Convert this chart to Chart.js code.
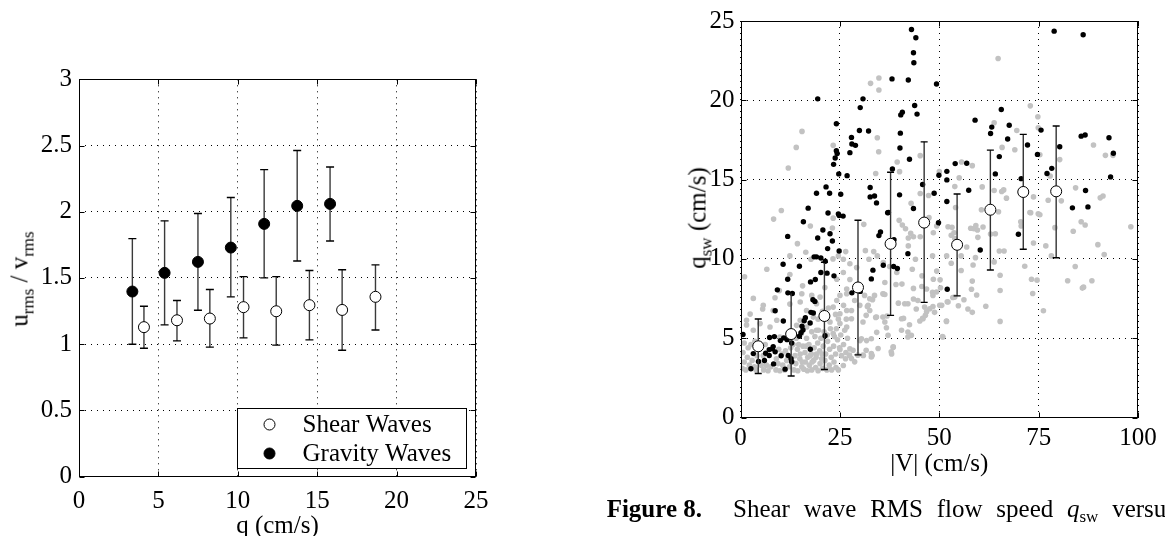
<!DOCTYPE html>
<html>
<head>
<meta charset="utf-8">
<script src="https://cdn.jsdelivr.net/npm/chart.js@4.4.0/dist/chart.umd.min.js"></script>
<style>
  html, body { margin: 0; padding: 0; background: #fff; }
  body { position: relative; width: 1165px; height: 536px; overflow: hidden; font-family: "Liberation Serif", "Times New Roman", serif; color: #000; }
  canvas { position: absolute; top: 0; }
  #ratioChart { left: 0; }
  #speedChart { left: 620px; }
  .ylab { position: absolute; white-space: nowrap; font-size: 25px; line-height: 25px; transform: translate(-50%, -50%) rotate(-90deg); }
  .ylab sub { font-size: 17px; line-height: 0; vertical-align: -6px; }
  .cap { position: absolute; top: 496px; font-size: 25px; line-height: 25px; white-space: nowrap; }
  .cap sub { font-size: 17px; line-height: 0; vertical-align: -5px; }
</style>
</head>
<body>
<canvas id="ratioChart" width="560" height="560"></canvas>
<canvas id="speedChart" width="545" height="536"></canvas>
<div class="ylab" style="left:19px; top:279px">u<sub>rms</sub> / v<sub>rms</sub></div>
<div class="ylab" style="left:697px; top:218px">q<sub>sw</sub> (cm/s)</div>
<div class="cap" style="right:463px"><b>Figure 8.</b></div>
<div class="cap" style="left:733px; word-spacing:7.5px">Shear wave RMS flow speed <i>q</i><sub>sw</sub> versus</div>

<script>
// ---- left panel: u_rms / v_rms against q ----
const shearQ = [4.09, 6.17, 8.24, 10.36, 12.42, 14.51, 16.57, 18.67];
const shearRatio = [1.128, 1.18, 1.193, 1.279, 1.248, 1.294, 1.258, 1.357];
const shearLow = [0.969, 1.024, 0.977, 1.047, 0.992, 1.032, 0.954, 1.107];
const shearHigh = [1.286, 1.329, 1.412, 1.51, 1.51, 1.556, 1.561, 1.598];

const gravQ = [3.36, 5.39, 7.49, 9.56, 11.66, 13.74, 15.81];
const gravRatio = [1.397, 1.538, 1.621, 1.729, 1.908, 2.044, 2.059];
const gravLow = [0.999, 1.145, 1.256, 1.357, 1.5, 1.628, 1.779];
const gravHigh = [1.797, 1.931, 1.986, 2.107, 2.318, 2.462, 2.338];

const qTicks = [0, 5, 10, 15, 20, 25];
const ratioTicks = [0, 0.5, 1, 1.5, 2, 2.5, 3];
const legendLabels = ["Shear Waves", "Gravity Waves"];

// ---- right panel: q_sw against |V| ----
const binV = [4.44, 12.72, 21.09, 29.54, 37.74, 46.19, 54.48, 62.85, 71.13, 79.41];
const binQ = [4.49, 5.26, 6.4, 8.2, 10.95, 12.29, 10.89, 13.1, 14.22, 14.26];
const binLow = [2.77, 2.62, 3.03, 3.95, 6.44, 7.26, 7.67, 9.3, 10.61, 10.07];
const binHigh = [6.21, 7.86, 9.79, 12.44, 15.46, 17.38, 14.09, 16.86, 17.85, 18.38];

const vTicks = [0, 25, 50, 75, 100];
const qswTicks = [0, 5, 10, 15, 20, 25];

// [|V|, q_sw] samples drawn black
const blackPts = [
  [43.0,24.46],[44.1,23.94],[43.5,23.0],[43.6,22.37],[38.1,21.35],[42.2,21.28],[49.3,21.03],[19.4,20.09],
  [30.8,20.09],[30.1,19.54],[40.7,19.25],[40.3,19.08],[43.8,19.67],[44.4,19.13],[24.1,18.52],[29.9,18.1],
  [32.2,18.06],[40.2,17.93],[27.9,17.66],[28.0,17.24],[28.9,17.16],[27.5,16.7],[24.1,16.82],[24.3,16.65],
  [23.8,16.36],[23.4,15.96],[24.7,15.36],[26.8,15.25],[40.1,16.99],[42.5,16.28],[38.2,15.67],[49.9,15.27],
  [21.5,14.54],[19.1,14.14],[22.4,14.14],[25.2,14.08],[32.6,14.5],[32.6,13.91],[33.7,13.97],[34.2,13.53],
  [40.0,14.04],[45.8,14.69],[48.7,14.14],[43.5,13.18],[17.0,13.2],[22.0,12.89],[24.6,12.84],[37.2,12.93],
  [78.9,24.36],[86.2,24.13],[65.6,19.42],[59.0,18.75],[63.2,18.31],[62.9,17.91],[67.6,18.43],[67.2,17.56],
  [75.6,18.12],[72.2,17.18],[80.3,17.07],[85.7,17.74],[86.7,17.81],[92.7,17.64],[93.8,16.66],[65.1,16.45],
  [74.7,16.59],[54.0,16.01],[56.9,16.03],[51.9,15.52],[51.9,14.98],[64.1,15.36],[70.6,15.06],[78.3,15.71],
  [77.1,15.38],[93.1,15.17],[57.4,14.33],[86.8,14.31],[51.9,13.62],[83.5,13.22],[87.4,13.28],
  [24.8,12.74],[25.8,12.7],[15.8,12.34],[11.85,11.42],[19.4,11.32],[20.7,11.82],[22.5,11.59],[23.1,11.13],
  [21.9,10.65],[24.8,10.5],[18.5,10.13],[19.1,10.13],[20.2,10.06],[21.3,9.85],[10.7,9.66],[14.8,9.54],
  [20.2,9.14],[21.75,9.1],[23.5,8.93],[18.8,8.7],[17.6,8.55],[11.85,8.72],[9.25,8.05],[11.9,7.86],
  [13.0,7.82],[18.2,7.42],[18.7,7.32],[8.7,6.73],[17.7,6.63],[18.3,6.59],[16.3,6.29],[16.0,6.1],
  [10.75,6.08],[15.45,5.75],[15.7,5.52],[15.2,5.35],[14.8,5.12],[17.5,5.96],[8.5,5.1],[7.3,5.04],
  [10.0,4.85],[10.85,5.02],[11.7,4.91],[12.85,4.7],[8.2,4.47],[8.0,4.33],[7.2,4.28],[8.7,4.14],
  [6.3,4.05],[7.2,3.91],[10.2,3.89],[12.0,3.91],[12.7,3.7],[3.2,4.03],[6.0,3.59],[4.5,3.53],
  [8.3,3.38],[12.85,3.51],[2.6,3.07],[0.6,5.23],[17.55,4.3],[21.25,5.16],[11.2,3.05],[33.3,9.29],
  [32.9,8.74],[30.1,7.95],[28.0,7.86],[35.2,11.7],[34.8,11.47],[38.6,11.21],[35.9,9.6],[38.5,9.52],
  [39.45,9.39],[42.1,10.33],[37.0,12.91],[49.8,12.28],[69.9,11.55],[60.3,10.56],[52.0,8.09]
];

// [|V|, q_sw] samples drawn light grey
const grayPts = [
  [34.8,21.41],[32.7,21.07],[34.8,20.65],[15.45,18.04],[14.0,17.03],[23.3,17.16],[34.4,17.64],[34.75,16.76],
  [12.0,15.73],[39.4,16.11],[40.0,15.5],[34.0,15.38],[45.2,16.51],[50.0,15.5],[45.2,14.12],[47.3,14.0],
  [42.9,13.51],[10.25,13.05],
  [64.8,22.64],[72.9,19.65],[74.8,18.96],[74.9,18.27],[63.8,18.58],[69.5,18.1],[65.8,17.03],[69.0,16.88],
  [88.8,17.18],[91.8,16.53],[93.7,16.53],[80.3,16.26],[75.3,16.57],[58.3,15.88],[55.6,16.11],[55.0,15.11],
  [53.9,14.56],[60.8,14.54],[63.8,14.31],[65.7,14.25],[66.2,14.35],[66.9,13.83],[73.7,13.91],[77.9,15.23],
  [77.4,13.7],[80.7,13.66],[84.3,14.48],[90.5,13.85],[91.2,13.97],[60.6,13.1],[64.9,12.97],[72.8,12.93],
  [74.9,12.84],[54.1,13.24],
  [52.2,12.03],[53.2,11.99],[53.7,11.65],[53.0,11.49],[53.9,11.28],[57.9,11.93],[58.7,11.9],[59.6,11.82],
  [59.2,12.11],[61.0,12.01],[59.7,11.36],[56.9,10.75],[62.9,11.57],[64.1,11.59],[65.1,10.5],[66.3,10.5],
  [59.1,10.08],[51.85,10.19],[55.5,10.19],[53.0,9.73],[58.5,9.62],[63.8,9.81],[55.5,9.27],[65.3,8.97],
  [50.2,8.68],[58.3,8.6],[58.1,8.09],[50.3,8.18],[59.4,7.72],[65.3,8.01],[53.4,7.57],[56.2,7.42],
  [52.0,7.3],[50.6,7.07],[54.8,7.05],[57.2,6.84],[58.3,6.63],[61.7,7.01],[51.8,6.06],[65.3,6.06],
  [50.8,5.1],[70.5,12.34],[70.6,12.07],[73.0,12.91],[75.3,12.78],[73.7,11.0],[76.8,10.82],[79.1,11.97],
  [78.2,10.19],[71.5,9.54],[73.2,8.72],[74.6,8.66],[73.5,7.82],[76.2,6.73],[83.7,11.74],[85.7,12.34],
  [86.7,12.14],[89.9,10.9],[91.5,10.27],[98.2,12.03],[84.2,9.52],[82.3,8.62],[86.0,8.16],[86.3,8.22],
  [88.4,8.62],
  [8.3,12.51],[17.55,12.07],[23.1,11.95],[23.3,12.57],[31.0,12.18],[39.9,12.43],[40.7,12.14],[41.5,11.9],
  [42.8,11.61],[43.5,11.4],[42.2,11.32],[45.2,11.4],[48.5,11.65],[47.4,12.6],[49.35,12.07],[14.3,10.96],
  [1.0,8.87],[6.6,9.35],[12.4,9.02],[8.66,7.55],[5.55,6.84],[2.4,6.52],[1.5,5.83],[16.4,10.42],
  [17.7,9.98],[23.25,10.0],[24.6,10.19],[26.45,10.46],[27.5,9.69],[25.85,9.14],[12.4,10.19],[31.4,10.52],
  [32.3,9.98],[33.5,10.46],[34.4,10.19],[35.9,9.77],[37.5,9.52],[39.3,9.14],[40.6,8.41],[43.5,8.14],
  [43.5,7.47],[44.2,6.84],[39.7,7.21],[36.0,7.78],[36.3,8.51],[39.1,8.39],[33.2,7.42],[31.9,7.0],
  [34.0,6.31],[36.85,6.4],[41.0,6.25],[45.8,6.25],[46.8,6.67],[48.4,7.0],[45.6,8.26],[46.8,8.1],
  [48.5,8.72],[49.35,9.23],[45.65,8.93],[43.2,9.35],[44.0,9.98],[48.3,10.19],[42.2,10.82],[48.3,7.89],
  [48.8,6.63],[30.9,3.91],[33.1,3.91],[38.4,4.43],[38.0,4.01],[31.7,4.85],[30.05,4.85],[34.25,5.37],
  [27.5,4.33],[26.4,3.7],[25.85,3.28],[25.0,4.28],[3.2,7.51],[9.75,8.0],[12.4,7.15],[15.6,8.3],
  [21.2,8.2],[24.2,8.72],[26.7,8.1],[27.5,8.7],[29.2,9.45],[25.85,9.98],
  [15.4,7.8],[17.9,7.7],[20.0,7.59],[25.0,7.7],[26.7,7.8],[15.0,7.28],[19.1,7.17],[24.2,7.38],
  [25.9,7.07],[5.7,7.07],[8.2,6.75],[1.5,6.13],[3.2,5.5],[4.9,5.92],[7.4,5.71],[9.1,6.13],
  [15.0,6.13],[16.6,6.75],[18.3,6.33],[23.3,6.96],[25.0,6.54],[26.7,6.75],[22.5,6.02],[25.0,5.92],
  [26.7,5.71],[23.3,5.29],[19.1,5.5],[16.6,5.71],[14.1,5.81],[9.9,5.08],
  [28.7,7.38],[31.2,7.7],[32.5,7.49],[33.7,7.7],[35.8,7.8],[36.3,7.76],[27.9,6.75],[30.0,7.07],
  [32.1,7.07],[32.5,6.75],[31.6,6.44],[27.9,6.23],[30.8,6.02],[34.2,6.33],[35.8,6.33],[36.3,6.02],
  [36.7,5.66],[37.1,5.18],[40.5,6.23],[41.3,7.17],[42.1,7.17],[42.5,5.85],[40.5,5.5],[42.1,5.39],
  [42.97,5.18],[42.1,5.08],[44.6,7.38],[45.1,6.08],[45.9,6.23],[46.5,6.44],[46.3,6.96],[47.6,6.86],
  [50.1,7.07],[52.2,7.28],[53.9,7.59],[51.8,6.08],[48.4,7.7],[49.3,7.91],[50.9,5.08],[30.4,4.97],
  [32.9,4.97],[31.6,4.24],[32.9,4.03],[32.9,3.82],[30.8,3.93],[34.6,4.35],[37.9,4.14],[38.4,4.45],
  [28.3,4.24],[27.4,3.93],[27.9,3.72],[29.5,3.93],[28.7,3.51],
  [0.4,3.1],[0.9,3.5],[1.3,3.0],[1.7,3.8],[2.2,3.3],[2.9,3.6],[3.5,3.2],[4.1,3.9],
  [0.6,4.1],[1.9,4.4],[3.9,3.0],[5.2,3.3],[5.8,3.0],[6.5,3.3],[6.9,2.95],[7.6,3.2],
  [8.9,3.0],[9.4,3.4],[9.9,2.95],[10.6,3.3],[11.1,3.0],[11.6,3.6],[12.3,3.2],[13.4,3.0],
  [13.9,3.4],[14.4,2.95],[14.9,3.7],[15.4,3.2],[15.9,3.05],[16.3,3.5],[16.8,2.95],[17.3,3.3],
  [17.9,3.0],[18.4,3.6],[18.9,3.15],[19.5,2.95],[20.0,3.4],[20.6,3.1],[21.2,3.6],[21.7,3.0],
  [22.3,3.3],[22.9,3.0],[23.5,3.5],[24.0,3.15],[24.6,3.0],[13.7,3.9],[14.3,4.3],[15.0,4.0],
  [15.7,4.5],[16.2,4.1],[16.9,3.8],[17.2,4.6],[17.8,4.0],[18.5,4.4],[19.0,3.8],[19.4,4.7],
  [19.9,4.2],[20.4,3.7],[20.8,4.5],[21.4,4.0],[21.9,4.8],[22.4,4.3],[22.8,3.8],[23.4,4.5],
  [23.9,4.0],[24.4,4.9],[24.9,4.4],[25.4,3.9],[25.9,4.6],[26.5,4.1],[26.9,5.0],[13.2,4.6],
  [14.0,5.0],[15.3,5.3],[16.6,5.0],[17.9,5.4],[18.7,5.1],[19.6,5.5],[20.2,5.0],[21.0,5.4],
  [21.8,5.2],[22.6,5.6],[23.6,5.1],[24.1,5.6],[25.2,5.2],[26.2,5.5],[26.6,6.2],[24.6,6.2],
  [23.9,6.5],[21.5,6.3],[20.6,6.7],[19.5,6.2],[22.1,6.9],[12.6,4.4],[11.3,4.2],[10.4,4.0],
  [9.6,4.3],[9.0,3.7],[11.9,3.8],[13.0,3.5],[5.7,3.9],[4.7,4.3],[2.6,4.6],[0.9,4.7],
  [3.6,4.8],[6.2,4.6],[19.1,4.0],[18.0,3.5],[20.5,4.0],[17.5,3.9],[16.5,4.5],[15.5,3.5],
  [14.6,4.6]
];

const serif = "'Liberation Serif', 'Times New Roman', serif";
const tickFont = { family: serif, size: 25 };

function toXY(xs, ys) {
  return xs.map((x, i) => ({ x: x, y: ys[i] }));
}

// error bars are drawn just before their own markers so the markers sit on top
const errorBars = {
  id: "errorBars",
  beforeDatasetDraw(chart, args) {
    const ds = chart.data.datasets[args.index];
    if (!ds.errLow) return;
    const xs = chart.scales.x;
    const ys = chart.scales.y;
    const ctx = chart.ctx;
    ctx.save();
    ds.data.forEach((p, i) => {
      const px = xs.getPixelForValue(p.x);
      const top = ys.getPixelForValue(ds.errHigh[i]);
      const bot = ys.getPixelForValue(ds.errLow[i]);
      ctx.lineWidth = 1.4;
      ctx.strokeStyle = ds.stemColor;
      ctx.beginPath();
      ctx.moveTo(px, top);
      ctx.lineTo(px, bot);
      ctx.stroke();
      ctx.strokeStyle = "#000";
      ctx.beginPath();
      ctx.moveTo(px - ds.capWidth, top);
      ctx.lineTo(px + ds.capWidth, top);
      ctx.moveTo(px - ds.capWidth, bot);
      ctx.lineTo(px + ds.capWidth, bot);
      ctx.stroke();
    });
    ctx.restore();
  },
};

// matlab style box with inward tick marks
const frame = {
  id: "frame",
  afterDraw(chart) {
    const ctx = chart.ctx;
    const a = chart.chartArea;
    const xs = chart.scales.x;
    const ys = chart.scales.y;
    const L = Math.round(a.left) + 0.5, R = Math.round(a.right) - 0.5;
    const T = Math.round(a.top) + 0.5, B = Math.round(a.bottom) - 0.5;
    ctx.save();
    ctx.strokeStyle = "#000";
    ctx.lineWidth = 1;
    ctx.strokeRect(L, T, R - L, B - T);
    ctx.beginPath();
    xs.ticks.forEach((t) => {
      const px = Math.round(xs.getPixelForValue(t.value)) + 0.5;
      ctx.moveTo(px, B); ctx.lineTo(px, B - 5);
      ctx.moveTo(px, T); ctx.lineTo(px, T + 5);
    });
    ys.ticks.forEach((t) => {
      const py = Math.round(ys.getPixelForValue(t.value)) + 0.5;
      ctx.moveTo(L, py); ctx.lineTo(L + 5, py);
      ctx.moveTo(R, py); ctx.lineTo(R - 5, py);
    });
    ctx.stroke();
    ctx.restore();
  },
};

// boxed legend in the lower right corner of the left panel
const boxLegend = {
  id: "boxLegend",
  afterDatasetsDraw(chart) {
    const ctx = chart.ctx;
    const a = chart.chartArea;
    const w = 229, h = 60;
    const left = Math.round(a.right - 10 - w) + 0.5;
    const top = Math.round(a.bottom - 9 - h) + 0.5;
    ctx.save();
    ctx.fillStyle = "#fff";
    ctx.fillRect(left, top, w, h);
    ctx.strokeStyle = "#000";
    ctx.lineWidth = 1;
    ctx.strokeRect(left, top, w, h);
    ctx.font = "25px " + serif;
    ctx.textBaseline = "middle";
    const sets = chart.data.datasets;
    [16, 45].forEach((dy, i) => {
      const ds = sets[i];
      ctx.beginPath();
      ctx.arc(left + 32, top + dy, ds.pointRadius, 0, Math.PI * 2);
      ctx.fillStyle = ds.backgroundColor;
      ctx.fill();
      ctx.strokeStyle = "#000";
      ctx.stroke();
      ctx.fillStyle = "#000";
      ctx.fillText(legendLabels[i], left + 65, top + dy + 1);
    });
    ctx.restore();
  },
};

function axis(min, max, tickValues, pad, title) {
  const cfg = {
    type: "linear",
    min: min,
    max: max,
    afterBuildTicks: (s) => { s.ticks = tickValues.map((v) => ({ value: v })); },
    ticks: { color: "#000", font: tickFont, padding: pad, maxRotation: 0, autoSkip: false, callback: (v) => String(v) },
    grid: { color: "#000", lineWidth: 1, drawTicks: false },
    border: { display: false, dash: [1, 5] },
  };
  if (title) {
    cfg.title = { display: true, text: title.text, color: "#000", font: { family: serif, size: 25 }, padding: { top: 0, bottom: title.bottom } };
  }
  return cfg;
}

// ---------- left chart ----------
const ratioX = axis(0, 25, qTicks, 10, { text: "q (cm/s)", bottom: 19 });
ratioX.afterFit = (s) => { s.height = 83.5; };
const ratioY = axis(0, 3, ratioTicks, 7);
ratioY.afterFit = (s) => { s.width = 79; };

new Chart(document.getElementById("ratioChart"), {
  type: "scatter",
  data: {
    datasets: [
      {
        label: legendLabels[0],
        data: toXY(shearQ, shearRatio),
        errLow: shearLow, errHigh: shearHigh, stemColor: "#3a3a3a", capWidth: 4,
        pointRadius: 5.5, pointBorderWidth: 1, borderColor: "#000", backgroundColor: "#fff",
        order: 1,
      },
      {
        label: legendLabels[1],
        data: toXY(gravQ, gravRatio),
        errLow: gravLow, errHigh: gravHigh, stemColor: "#3a3a3a", capWidth: 4,
        pointRadius: 5.5, pointBorderWidth: 1, borderColor: "#000", backgroundColor: "#000",
        order: 2,
      },
    ],
  },
  options: {
    responsive: false,
    animation: false,
    events: [],
    layout: { padding: { left: 0, top: 79.3, right: 84, bottom: 0 } },
    scales: { x: ratioX, y: ratioY },
    plugins: { legend: { display: false }, tooltip: { enabled: false } },
  },
  plugins: [errorBars, boxLegend, frame],
});

// ---------- right chart ----------
const speedX = axis(0, 100, vTicks, 6, { text: "|V| (cm/s)", bottom: 57 });
speedX.afterFit = (s) => { s.height = 118.5; };
const speedY = axis(0, 25, qswTicks, 6);
speedY.afterFit = (s) => { s.width = 120.6; };

new Chart(document.getElementById("speedChart"), {
  type: "scatter",
  data: {
    datasets: [
      {
        label: "bin mean",
        data: toXY(binV, binQ),
        errLow: binLow, errHigh: binHigh, stemColor: "#333", capWidth: 3.5,
        pointRadius: 5.5, pointBorderWidth: 1, borderColor: "#000", backgroundColor: "#fff",
        order: 0,
      },
      {
        label: "black samples",
        data: blackPts.map(([x, y]) => ({ x: x, y: y })),
        pointRadius: 2.7, pointBorderWidth: 0, backgroundColor: "#000", borderColor: "#000",
        order: 1,
      },
      {
        label: "grey samples",
        data: grayPts.map(([x, y]) => ({ x: x, y: y })),
        pointRadius: 2.8, pointBorderWidth: 0, backgroundColor: "#c2c2c2", borderColor: "#c2c2c2",
        order: 2,
      },
    ],
  },
  options: {
    responsive: false,
    animation: false,
    events: [],
    layout: { padding: { left: 0, top: 19.5, right: 27, bottom: 0 } },
    scales: { x: speedX, y: speedY },
    plugins: { legend: { display: false }, tooltip: { enabled: false } },
  },
  plugins: [errorBars, frame],
});
</script>
</body>
</html>
